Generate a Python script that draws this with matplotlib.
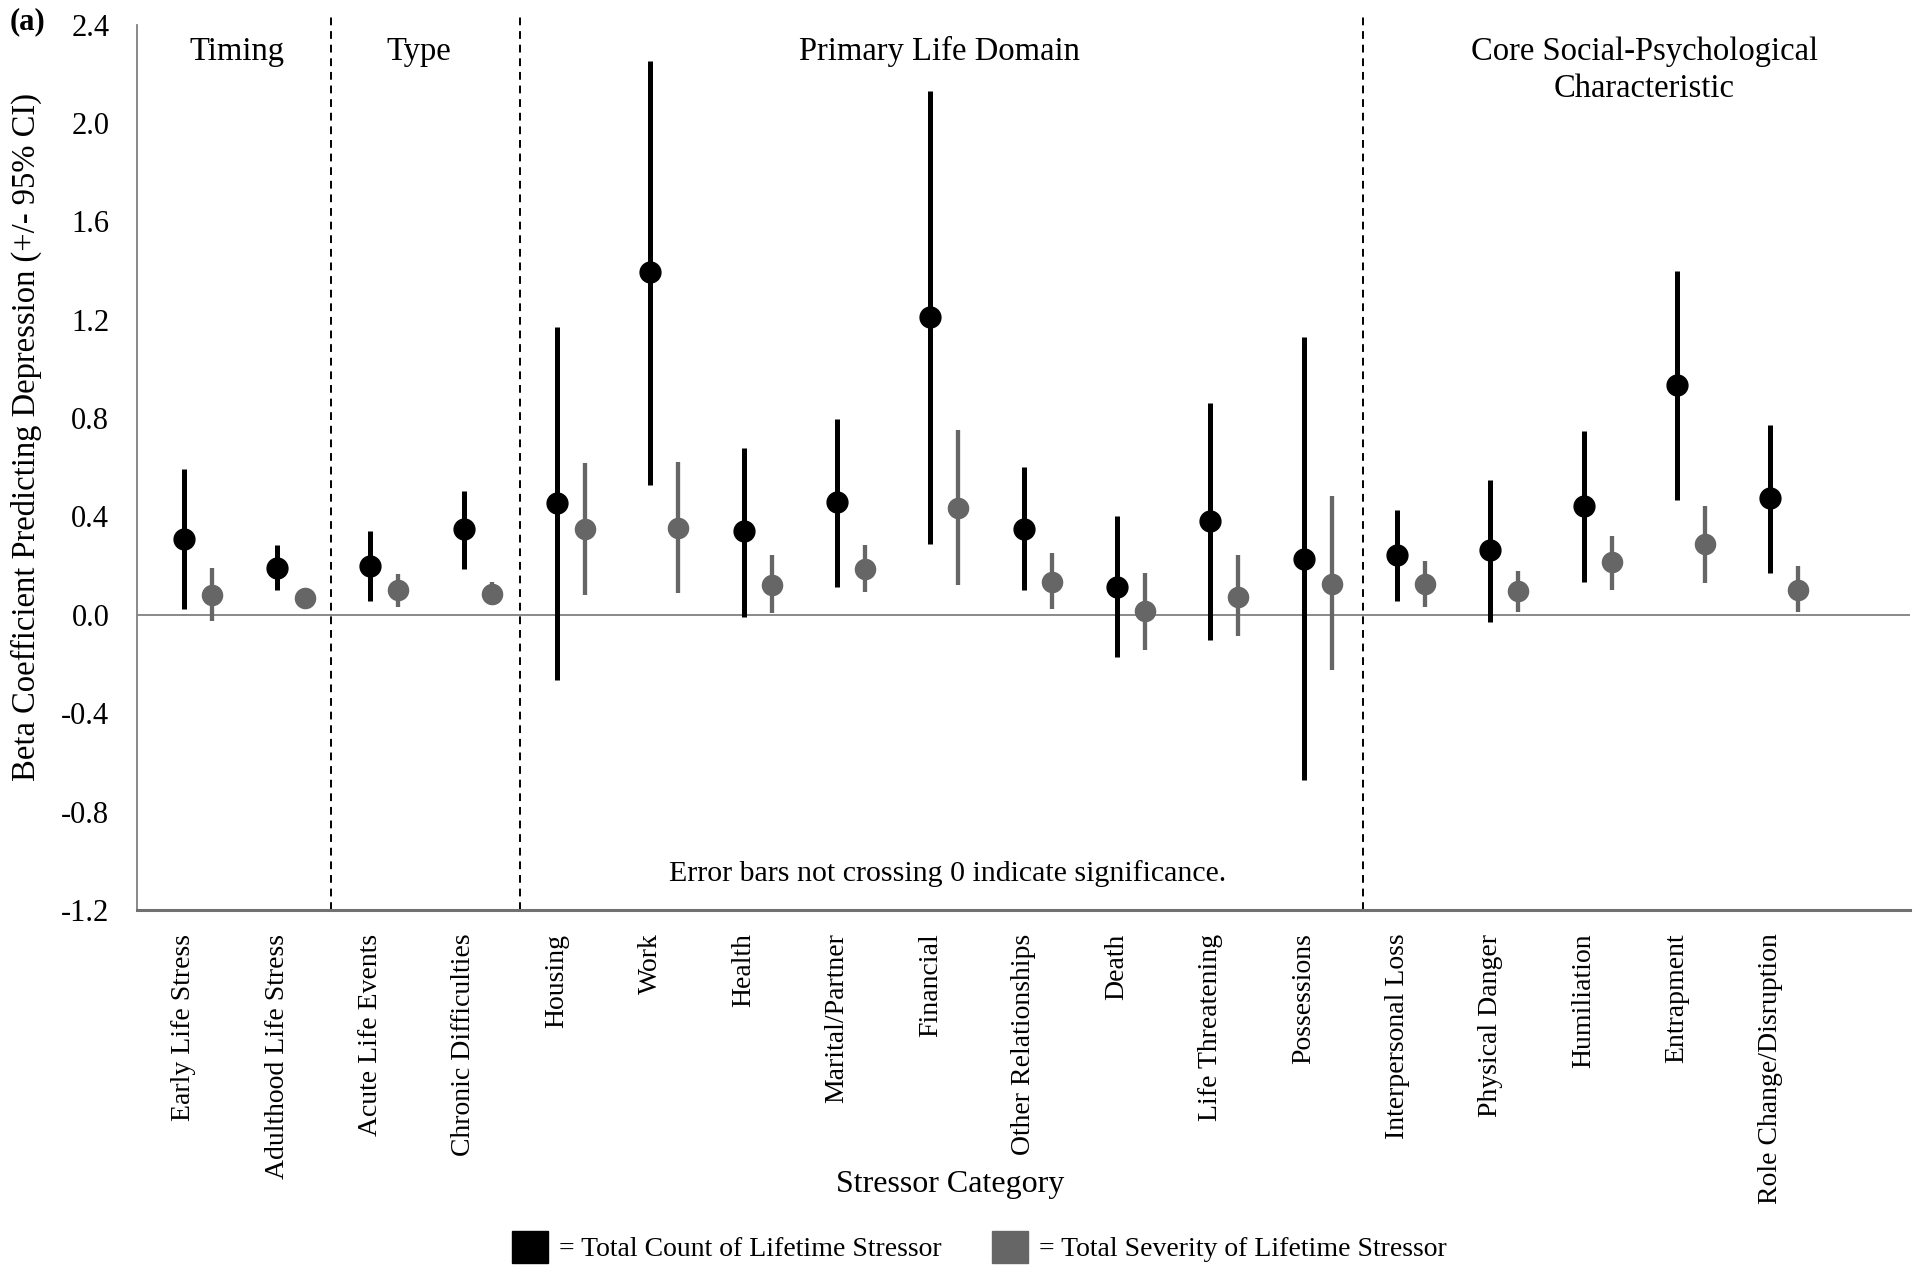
import numpy as np
import matplotlib
matplotlib.use('Agg')
import matplotlib.pyplot as plt
from matplotlib.patches import Patch

plt.rcParams['font.family'] = ['Liberation Serif', 'DejaVu Serif']
plt.rcParams['axes.unicode_minus'] = False

# stressor categories (last slot on the axis is left empty, as in the original)
categories = ['Early Life Stress', 'Adulthood Life Stress', 'Acute Life Events',
              'Chronic Difficulties', 'Housing', 'Work', 'Health',
              'Marital/Partner', 'Financial', 'Other Relationships', 'Death',
              'Life Threatening', 'Possessions', 'Interpersonal Loss',
              'Physical Danger', 'Humiliation', 'Entrapment',
              'Role Change/Disruption']

# total count of lifetime stressor: beta, lower CI, upper CI
count_beta = [0.31, 0.19, 0.20, 0.35, 0.455, 1.395, 0.342, 0.458, 1.212, 0.35,
              0.113, 0.383, 0.228, 0.245, 0.262, 0.442, 0.933, 0.475]
count_lo = [0.025, 0.10, 0.055, 0.187, -0.265, 0.528, -0.008, 0.112, 0.288, 0.10,
            -0.173, -0.102, -0.673, 0.058, -0.03, 0.133, 0.467, 0.172]
count_hi = [0.592, 0.283, 0.342, 0.503, 1.17, 2.25, 0.678, 0.795, 2.128, 0.603,
            0.403, 0.863, 1.13, 0.425, 0.547, 0.747, 1.397, 0.77]

# total severity of lifetime stressor
sev_beta = [0.08, 0.067, 0.10, 0.083, 0.347, 0.353, 0.122, 0.188, 0.433, 0.133,
            0.017, 0.072, 0.125, 0.125, 0.097, 0.213, 0.288, 0.103]
sev_lo = [-0.025, 0.045, 0.033, 0.038, 0.08, 0.088, 0.008, 0.092, 0.122, 0.022,
          -0.142, -0.088, -0.223, 0.033, 0.012, 0.103, 0.128, 0.013]
sev_hi = [0.19, 0.09, 0.167, 0.133, 0.617, 0.622, 0.242, 0.283, 0.753, 0.253,
          0.17, 0.242, 0.483, 0.22, 0.178, 0.322, 0.442, 0.197]

# section headers and the dashed separators between them
groups = ['Timing', 'Type', 'Primary Life Domain',
          'Core Social-Psychological\nCharacteristic']
group_x = [0.57, 2.52, 8.1, 15.65]
separators = [1.58, 3.6, 12.63]

BLACK = '#000000'
GRAY = '#666666'

fig = plt.figure(figsize=(19.2, 12.72), dpi=100)
ax = fig.add_axes([0.0714, 0.2846, 0.9236, 0.6961])

x = np.arange(len(categories))
cb = np.array(count_beta)
sb = np.array(sev_beta)

ax.axhline(0, color='#808080', linewidth=1.3, zorder=1)

ax.errorbar(x, cb, yerr=[cb - np.array(count_lo), np.array(count_hi) - cb],
            fmt='o', color=BLACK, ms=15, elinewidth=3.6, capsize=0, zorder=3)
ax.errorbar(x + 0.3, sb, yerr=[sb - np.array(sev_lo), np.array(sev_hi) - sb],
            fmt='o', color=GRAY, ms=14.5, elinewidth=3.1, capsize=0, zorder=3)

for sx in separators:
    ax.axvline(sx, ymin=0, ymax=1.012, color='black', linestyle=(0, (4, 3)),
               linewidth=1.4, clip_on=False, zorder=2)

for gx, g in zip(group_x, groups):
    if '\n' in g:
        ax.text(gx, 2.215, g, ha='center', va='center', fontsize=23.5,
                linespacing=1.3)
    else:
        ax.text(gx, 2.29, g, ha='center', va='center', fontsize=23.5)

ax.text(8.18, -1.05, 'Error bars not crossing 0 indicate significance.',
        ha='center', va='center', fontsize=21.5)

ax.set_xlim(-0.5, 18.5)
ax.set_ylim(-1.2, 2.4)
ax.set_yticks(np.arange(-1.2, 2.41, 0.4))
ax.set_yticklabels([f'{v:.1f}' for v in np.arange(-1.2, 2.41, 0.4)],
                   fontsize=22)
ax.set_xticks(x)
ax.set_xticklabels(categories, rotation=90, va='top', ha='center', fontsize=20)
ax.tick_params(axis='y', length=0, pad=20)
ax.tick_params(axis='x', length=0, pad=17)

ax.spines['top'].set_visible(False)
ax.spines['right'].set_visible(False)
ax.spines['left'].set_color('#808080')
ax.spines['left'].set_linewidth(1.3)
ax.spines['bottom'].set_color('#707070')
ax.spines['bottom'].set_linewidth(2.2)

ax.set_ylabel('Beta Coefficient Predicting Depression (+/- 95% CI)',
              fontsize=23.5)
ax.yaxis.set_label_coords(-0.0536, 0.534)

fig.text(0.495, 0.0684, 'Stressor Category', ha='center', va='center',
         fontsize=23)
fig.text(0.005, 1 - 22 / 1272, '(a)', ha='left', va='center', fontsize=22,
         fontweight='bold')

handles = [Patch(facecolor=BLACK, edgecolor=BLACK),
           Patch(facecolor=GRAY, edgecolor=GRAY)]
labels = ['= Total Count of Lifetime Stressor',
          '= Total Severity of Lifetime Stressor']
fig.legend(handles, labels, loc='center', bbox_to_anchor=(0.51, 0.0197),
           ncol=2, frameon=False, fontsize=20, handlelength=1.3,
           handleheight=1.4, handletextpad=0.4, columnspacing=1.8)

fig.savefig('out.png', dpi=100)
